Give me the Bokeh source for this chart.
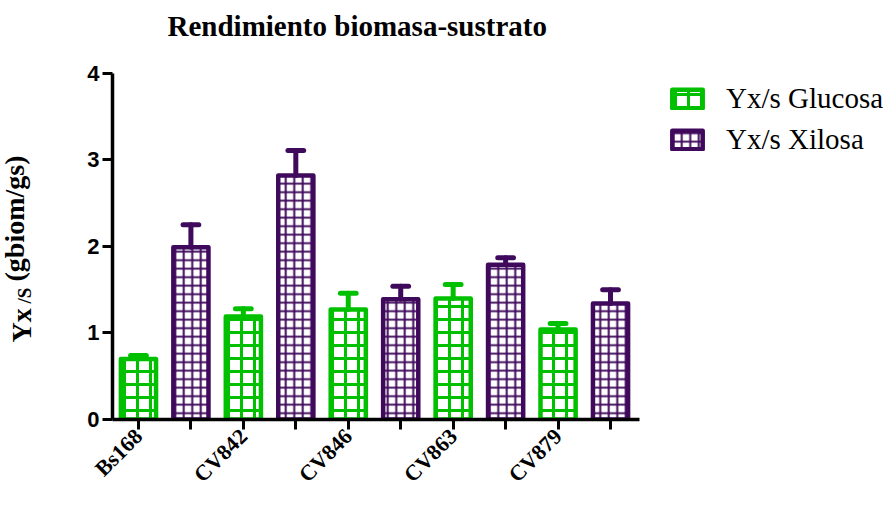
from math import pi
from bokeh.plotting import figure
from bokeh.models import (ColumnDataSource, FixedTicker, Label, Legend,
                          LegendItem, Range1d)
from bokeh.embed import file_html
from bokeh.resources import INLINE

# ---- data ----
strains = ["Bs168", "CV842", "CV846", "CV863", "CV879"]
glucosa = [0.70, 1.19, 1.27, 1.40, 1.04]
glucosa_err = [0.04, 0.09, 0.19, 0.16, 0.07]
xilosa = [1.99, 2.82, 1.39, 1.79, 1.34]
xilosa_err = [0.26, 0.29, 0.15, 0.08, 0.16]
y_ticks = [0, 1, 2, 3, 4]

GREEN = "#00C000"
PURPLE = "#400A5C"
SERIF = "Liberation Serif"

xg = [2 * i for i in range(len(strains))]
xx = [2 * i + 1 for i in range(len(strains))]

src_g = ColumnDataSource(dict(x=xg, top=glucosa, up=[v + e for v, e in zip(glucosa, glucosa_err)]))
src_x = ColumnDataSource(dict(x=xx, top=xilosa, up=[v + e for v, e in zip(xilosa, xilosa_err)]))

# frame spans to the right and top edges so the legend and title sit inside it;
# the axes themselves are bounded to the data area.
X0, X1 = -0.495, 9.56
p = figure(width=888, height=498, output_backend="svg", toolbar_location=None,
           x_range=Range1d(X0, 14.30), y_range=Range1d(0, 4.843),
           min_border_left=112, min_border_right=0, min_border_top=0, min_border_bottom=73)
p.title.visible = False
p.outline_line_color = None
p.xgrid.visible = False
p.ygrid.visible = False

BW = 0.67
rg = p.vbar(x="x", top="top", width=BW, bottom=0, source=src_g, fill_color="white",
            line_color=GREEN, line_width=4.5, line_join="round",
            hatch_pattern="+", hatch_color=GREEN, hatch_weight=3, hatch_scale=13)
rx = p.vbar(x="x", top="top", width=BW, bottom=0, source=src_x, fill_color="white",
            line_color=PURPLE, line_width=4.5, line_join="round",
            hatch_pattern="+", hatch_color=PURPLE, hatch_weight=2, hatch_scale=8.5)

CAP = 0.15
for src, col in ((src_g, GREEN), (src_x, PURPLE)):
    p.segment(x0="x", y0="top", x1="x", y1="up", source=src, line_color=col,
              line_width=5, line_cap="round")
    d = src.data
    p.segment(x0=[v - CAP for v in d["x"]], y0=d["up"], x1=[v + CAP for v in d["x"]],
              y1=d["up"], line_color=col, line_width=5, line_cap="round")

# axes
for ax in (p.xaxis[0], p.yaxis[0]):
    ax.axis_line_width = 3.5
    ax.major_tick_line_width = 3
    ax.minor_tick_line_color = None
    ax.major_tick_in = 0
    ax.major_tick_out = 10
    ax.major_label_text_color = "black"
p.yaxis.bounds = (0, 4)
p.yaxis.ticker = FixedTicker(ticks=y_ticks)
p.yaxis.major_label_text_font = "Liberation Sans"
p.yaxis.major_label_text_font_style = "bold"
p.yaxis.major_label_text_font_size = "22px"
p.yaxis.major_label_standoff = 3
p.xaxis.bounds = (X0, X1)
p.xaxis.ticker = FixedTicker(ticks=list(range(2 * len(strains))))
p.xaxis.major_label_overrides = {i: (strains[i // 2] if i % 2 == 0 else "")
                                 for i in range(2 * len(strains))}
p.xaxis.major_label_orientation = pi / 4
p.xaxis.major_label_text_font = SERIF
p.xaxis.major_label_text_font_style = "bold"
p.xaxis.major_label_text_font_size = "22px"
p.xaxis.major_label_standoff = 3

# title (inside the extended frame)
p.add_layout(Label(x=55, y=394, x_units="screen", y_units="screen",
                   text="Rendimiento biomasa-sustrato", text_align="left",
                   text_baseline="alphabetic", text_font=SERIF, text_color="black",
                   text_font_style="bold", text_font_size="29px"))

# y axis label with subscript (labels in the left panel, stacked outward)
p.add_layout(Label(x=-32, y=77, x_units="screen", y_units="screen", text="Yx", angle=pi / 2,
                   text_align="left", text_baseline="alphabetic", text_font=SERIF,
                   text_color="black", text_font_style="bold", text_font_size="28px"), "left")
p.add_layout(Label(x=-8, y=116, x_units="screen", y_units="screen", text="/S", angle=pi / 2,
                   text_align="left", text_baseline="alphabetic", text_font=SERIF,
                   text_color="black", text_font_style="bold", text_font_size="19px"), "left")
p.add_layout(Label(x=13, y=138, x_units="screen", y_units="screen", text="(gbiom/gs)",
                   angle=pi / 2, text_align="left", text_baseline="alphabetic",
                   text_font=SERIF, text_color="black", text_font_style="bold",
                   text_font_size="28px"), "left")

legend = Legend(items=[LegendItem(label="Yx/s Glucosa", renderers=[rg]),
                       LegendItem(label="Yx/s Xilosa", renderers=[rx])],
                location=(556, 263), orientation="vertical")
legend.border_line_color = None
legend.background_fill_alpha = 0
legend.padding = 0
legend.margin = 0
legend.glyph_width = 38
legend.glyph_height = 23
legend.label_standoff = 20
legend.spacing = 8
legend.label_text_font = SERIF
legend.label_text_color = "black"
legend.label_text_font_size = "29px"
legend.label_height = 32
p.add_layout(legend, "center")

open("out.html", "w").write(file_html(p, INLINE))
